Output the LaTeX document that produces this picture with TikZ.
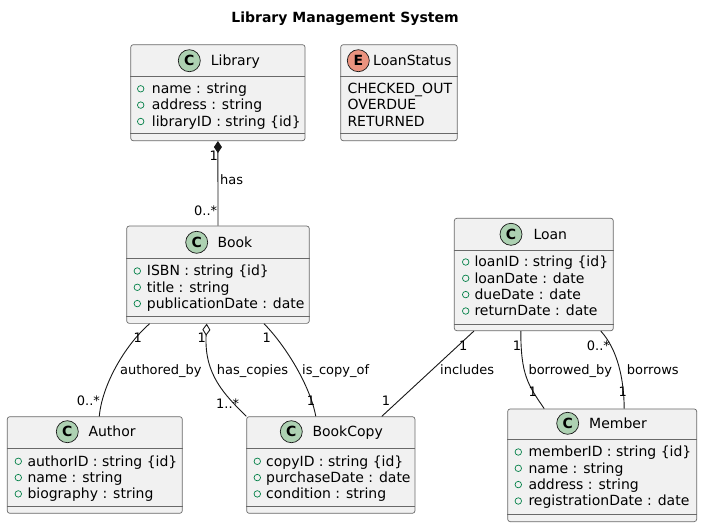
\documentclass[tikz,border=0pt]{standalone}
\usepackage{fontspec}
\setmainfont{DejaVu Sans}
\usetikzlibrary{arrows.meta}

\definecolor{boxfill}{HTML}{F1F1F1}
\definecolor{boxline}{HTML}{181818}
\definecolor{cbadge}{HTML}{ADD1B2}
\definecolor{ebadge}{HTML}{EB937F}
\definecolor{visgreen}{HTML}{038048}

\begin{document}
\begin{tikzpicture}[x=1pt,y=-1pt]

  \tikzset{CLS/.style={draw=boxline!65, fill=boxfill, line width=0.7pt, rounded corners=2.5pt, inner sep=0pt}}
  \tikzset{SEP/.style={draw=boxline!65, line width=0.7pt}}
  \tikzset{BADGE/.style={draw=boxline, line width=0.7pt, circle, minimum size=22pt, inner sep=0pt, font=\fontsize{14}{14}\selectfont\bfseries}}
  \tikzset{NAME/.style={anchor=base west, inner sep=0pt, font=\fontsize{14}{16}\selectfont}}
  \tikzset{ATTR/.style={anchor=base west, inner sep=0pt, font=\fontsize{14}{16}\selectfont}}
  \tikzset{VIS/.style={draw=visgreen, circle, line width=0.7pt, minimum size=6.5pt, inner sep=0pt}}
  \tikzset{LBL/.style={anchor=base west, inner sep=0pt, font=\fontsize{13}{15}\selectfont}}
  \tikzset{REL/.style={draw=boxline, line width=0.9pt}}

  \path[use as bounding box, fill=white] (0,0) rectangle (702,527);

  \node[anchor=base, inner sep=0pt, font=\fontsize{14}{16}\selectfont\bfseries] (title) at (345,23) {Library Management System};

  % Library
  \node[CLS, minimum width=174.3pt, minimum height=96pt] (library) at (217.9,92.7) {};
  \draw[SEP] ([yshift=-32pt]library.north west) -- ([yshift=-32pt]library.north east);
  \draw[SEP] ([yshift=7.5pt]library.south west) -- ([yshift=7.5pt]library.south east);
  \node[BADGE, fill=cbadge] (libraryC) at (189.3,60.7) {C};
  \node[NAME] (libraryN) at (210.7,65.7) {Library};
  \node[VIS] (libraryV1) at (140.7,88.8) {};
  \node[VIS] (libraryV2) at (140.7,105.1) {};
  \node[VIS] (libraryV3) at (140.7,121.5) {};
  \node[ATTR] (libraryA1) at (151.7,93.5) {name : string};
  \node[ATTR] (libraryA2) at (151.7,109.8) {address : string};
  \node[ATTR] (libraryA3) at (151.7,126.2) {libraryID : string \{id\}};

  % LoanStatus
  \node[CLS, minimum width=116.6pt, minimum height=96pt] (status) at (399,92.7) {};
  \draw[SEP] ([yshift=-32pt]status.north west) -- ([yshift=-32pt]status.north east);
  \draw[SEP] ([yshift=7.5pt]status.south west) -- ([yshift=7.5pt]status.south east);
  \node[BADGE, fill=ebadge] (statusE) at (358.3,60.7) {E};
  \node[NAME] (statusN) at (373,65.7) {LoanStatus};
  \node[ATTR] (statusA1) at (347.3,93.5) {CHECKED\_OUT};
  \node[ATTR] (statusA2) at (347.3,109.8) {OVERDUE};
  \node[ATTR] (statusA3) at (347.3,126.2) {RETURNED};

  % Book
  \node[CLS, minimum width=182.6pt, minimum height=97.3pt] (book) at (218,274.7) {};
  \draw[SEP] ([yshift=-32.3pt]book.north west) -- ([yshift=-32.3pt]book.north east);
  \draw[SEP] ([yshift=7.3pt]book.south west) -- ([yshift=7.3pt]book.south east);
  \node[BADGE, fill=cbadge] (bookC) at (196.7,242.3) {C};
  \node[NAME] (bookN) at (217.3,247.3) {Book};
  \node[VIS] (bookV1) at (137.3,271) {};
  \node[VIS] (bookV2) at (137.3,287.3) {};
  \node[VIS] (bookV3) at (137.3,303.6) {};
  \node[ATTR] (bookA1) at (146.7,275.7) {ISBN : string \{id\}};
  \node[ATTR] (bookA2) at (146.7,292) {title : string};
  \node[ATTR] (bookA3) at (146.7,308.3) {publicationDate : date};

  % Author
  \node[CLS, minimum width=175pt, minimum height=96.6pt] (author) at (94.8,465) {};
  \draw[SEP] ([yshift=-32pt]author.north west) -- ([yshift=-32pt]author.north east);
  \draw[SEP] ([yshift=7.5pt]author.south west) -- ([yshift=7.5pt]author.south east);
  \node[BADGE, fill=cbadge] (authorC) at (67.3,431.7) {C};
  \node[NAME] (authorN) at (88.3,436.7) {Author};
  \node[VIS] (authorV1) at (18.3,461.3) {};
  \node[VIS] (authorV2) at (18.3,477.6) {};
  \node[VIS] (authorV3) at (18.3,493.9) {};
  \node[ATTR] (authorA1) at (27.3,466) {authorID : string \{id\}};
  \node[ATTR] (authorA2) at (27.3,482.3) {name : string};
  \node[ATTR] (authorA3) at (27.3,498.6) {biography : string};

  % BookCopy
  \node[CLS, minimum width=168.3pt, minimum height=96.6pt] (copy) at (330.8,465) {};
  \draw[SEP] ([yshift=-32pt]copy.north west) -- ([yshift=-32pt]copy.north east);
  \draw[SEP] ([yshift=7.5pt]copy.south west) -- ([yshift=7.5pt]copy.south east);
  \node[BADGE, fill=cbadge] (copyC) at (291.3,431.7) {C};
  \node[NAME] (copyN) at (312.3,436.7) {BookCopy};
  \node[VIS] (copyV1) at (257.3,461.3) {};
  \node[VIS] (copyV2) at (257.3,477.6) {};
  \node[VIS] (copyV3) at (257.3,493.9) {};
  \node[ATTR] (copyA1) at (266,466) {copyID : string \{id\}};
  \node[ATTR] (copyA2) at (266,482.3) {purchaseDate : date};
  \node[ATTR] (copyA3) at (266,498.6) {condition : string};

  % Loan
  \node[CLS, minimum width=159pt, minimum height=112.4pt] (loan) at (533.8,274.5) {};
  \draw[SEP] ([yshift=-32.4pt]loan.north west) -- ([yshift=-32.4pt]loan.north east);
  \draw[SEP] ([yshift=6.7pt]loan.south west) -- ([yshift=6.7pt]loan.south east);
  \node[BADGE, fill=cbadge] (loanC) at (511,234.3) {C};
  \node[NAME] (loanN) at (533.3,239.3) {Loan};
  \node[VIS] (loanV1) at (465.7,262) {};
  \node[VIS] (loanV2) at (465.7,278.3) {};
  \node[VIS] (loanV3) at (465.7,294.6) {};
  \node[VIS] (loanV4) at (465.7,311) {};
  \node[ATTR] (loanA1) at (474.3,266.7) {loanID : string \{id\}};
  \node[ATTR] (loanA2) at (474.3,283) {loanDate : date};
  \node[ATTR] (loanA3) at (474.3,299.3) {dueDate : date};
  \node[ATTR] (loanA4) at (474.3,315.7) {returnDate : date};

  % Member
  \node[CLS, minimum width=189pt, minimum height=112.7pt] (member) at (602.2,465.3) {};
  \draw[SEP] ([yshift=-31pt]member.north west) -- ([yshift=-31pt]member.north east);
  \draw[SEP] ([yshift=7.7pt]member.south west) -- ([yshift=7.7pt]member.south east);
  \node[BADGE, fill=cbadge] (memberC) at (567.7,423.3) {C};
  \node[NAME] (memberN) at (589,428.3) {Member};
  \node[VIS] (memberV1) at (518.3,452) {};
  \node[VIS] (memberV2) at (518.3,468.3) {};
  \node[VIS] (memberV3) at (518.3,484.6) {};
  \node[VIS] (memberV4) at (518.3,501) {};
  \node[ATTR] (memberA1) at (528.3,456.7) {memberID : string \{id\}};
  \node[ATTR] (memberA2) at (528.3,473) {name : string};
  \node[ATTR] (memberA3) at (528.3,489.3) {address : string};
  \node[ATTR] (memberA4) at (528.3,505.7) {registrationDate : date};

  % relations
  \draw[REL, {Diamond[length=12pt,width=8pt]}-] (library.south) -- (book.north);
  \draw[REL] ([xshift=23.3pt]book.south west) .. controls (125,345) and (102,385) .. ([xshift=4.5pt]author.north);
  \draw[REL, {Diamond[open,fill=white,length=12pt,width=8pt]}-] ([xshift=-11.3pt]book.south) .. controls (204,375) and (225,395) .. (copy.north west);
  \draw[REL] ([xshift=46pt]book.south) .. controls (285,345) and (310,385) .. ([xshift=-15pt]copy.north);
  \draw[REL] ([xshift=20pt]loan.south west) -- ([xshift=51pt]copy.north);
  \draw[REL] ([xshift=-13pt]loan.south) .. controls (520.8,375) and (528,385) .. ([xshift=-58pt]member.north);
  \draw[REL] ([xshift=67pt]loan.south) .. controls (618,350) and (624,380) .. ([xshift=22pt]member.north);

  % labels
  \node[LBL] (hasA) at (209.3,160.7) {1};
  \node[LBL] (hasL) at (220,184) {has};
  \node[LBL] (hasB) at (194,215) {0..*};
  \node[LBL] (authA) at (133.3,342.3) {1};
  \node[LBL] (authL) at (120,374) {authored\_by};
  \node[LBL] (authB) at (76.7,405) {0..*};
  \node[LBL] (copiesA) at (197.3,342.3) {1};
  \node[LBL] (copiesL) at (216.7,374) {has\_copies};
  \node[LBL] (copiesB) at (216,408.3) {1..*};
  \node[LBL] (copyofA) at (262.3,342.3) {1};
  \node[LBL] (copyofL) at (302,374) {is\_copy\_of};
  \node[LBL] (copyofB) at (306.7,405) {1};
  \node[LBL] (inclA) at (459,350) {1};
  \node[LBL] (inclL) at (440,374) {includes};
  \node[LBL] (inclB) at (381.7,405) {1};
  \node[LBL] (bybyA) at (512.7,350) {1};
  \node[LBL] (bybyL) at (528.3,374) {borrowed\_by};
  \node[LBL] (bybyB) at (528.3,396.7) {1};
  \node[LBL] (borrA) at (586.7,350) {0..*};
  \node[LBL] (borrL) at (626.7,374) {borrows};
  \node[LBL] (borrB) at (618.3,396.7) {1};
\end{tikzpicture}
\end{document}
